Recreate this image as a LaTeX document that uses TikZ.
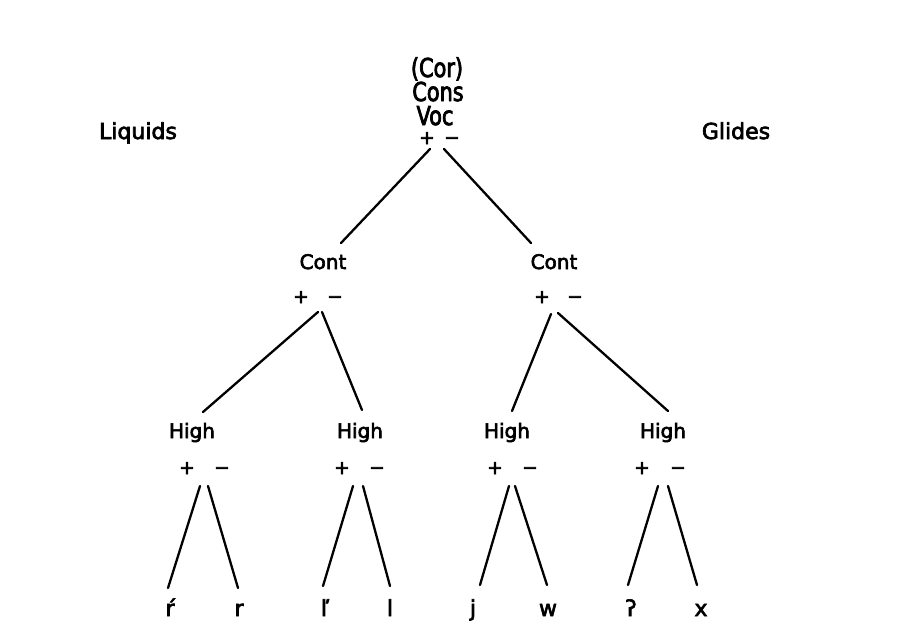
\documentclass[tikz,border=0pt]{standalone}
\usepackage{fontspec}
\setmainfont[FakeBold=3]{DejaVu Sans}
\newfontfamily\topfont[FakeStretch=0.8,FakeBold=3]{DejaVu Sans}
\begin{document}
\begin{tikzpicture}[x=1pt,y=-1pt,
  lbl/.style={inner sep=0pt,anchor=base,font=\fontsize{20}{24}\selectfont},
  sidelbl/.style={inner sep=0pt,anchor=base,font=\fontsize{22}{26}\selectfont},
  toplbl/.style={inner sep=0pt,anchor=base,font=\topfont\fontsize{26}{30}\selectfont},
  sign/.style={inner sep=0pt,anchor=base,font=\fontsize{19}{20}\selectfont},
  leaf/.style={inner sep=0pt,anchor=base,font=\fontsize{22}{26}\selectfont},
  branch/.style={line width=2.3pt,line cap=round}]
\useasboundingbox[fill=white] (0,0) rectangle (923,630);

% side labels
\node[sidelbl] (liquids) at (138,139) {Liquids};
\node[sidelbl] (glides) at (736,139) {Glides};

% top
\node[toplbl] (cor) at (437,77) {(Cor)};
\node[toplbl] (cons) at (438,101) {Cons};
\node[toplbl] (voc) at (435,125) {Voc};
\node[sign] (p0) at (427,144) {+};
\node[sign] (m0) at (452,144) {−};

% Cont
\node[lbl] (contL) at (323,269) {Cont};
\node[sign] (pL) at (301,303) {+};
\node[sign] (mL) at (335,303) {−};
\node[lbl] (contR) at (554,269) {Cont};
\node[sign] (pR) at (542,303) {+};
\node[sign] (mR) at (575,303) {−};

% High
\node[lbl] (h1) at (192,438) {High};
\node[sign] (p1) at (187,474) {+};
\node[sign] (m1) at (222,474) {−};
\node[lbl] (h2) at (360,438) {High};
\node[sign] (p2) at (342,474) {+};
\node[sign] (m2) at (377,474) {−};
\node[lbl] (h3) at (507,438) {High};
\node[sign] (p3) at (495,474) {+};
\node[sign] (m3) at (530,474) {−};
\node[lbl] (h4) at (663,438) {High};
\node[sign] (p4) at (642,474) {+};
\node[sign] (m4) at (678,474) {−};

% leaves
\node[leaf] (l1) at (170,616) {ŕ};
\node[leaf] (l2) at (239,616) {r};
\node[leaf] (l3) at (325,616) {ľ};
\node[leaf] (l4) at (390,616) {l};
\node[leaf] (l5) at (473,616) {j};
\node[leaf] (l6) at (548,616) {w};
\node[leaf] (l7) at (631,616) {ʔ};
\node[leaf] (l8) at (701,616) {x};

% branch end points
\coordinate (a0) at (430,149); \coordinate (b0) at (444,149);
\coordinate (a0e) at (341,243); \coordinate (b0e) at (531,243);
\coordinate (aL) at (318,312); \coordinate (bL) at (322,312);
\coordinate (aLe) at (203,412); \coordinate (bLe) at (362,410);
\coordinate (aR) at (551,314); \coordinate (bR) at (558,313);
\coordinate (aRe) at (512,411); \coordinate (bRe) at (668,411);
\coordinate (a1) at (200,486); \coordinate (b1) at (208,486);
\coordinate (a1e) at (168,588); \coordinate (b1e) at (238,588);
\coordinate (a2) at (353,486); \coordinate (b2) at (363,486);
\coordinate (a2e) at (323,586); \coordinate (b2e) at (390,586);
\coordinate (a3) at (509,486); \coordinate (b3) at (515,486);
\coordinate (a3e) at (480,585); \coordinate (b3e) at (547,585);
\coordinate (a4) at (658,486); \coordinate (b4) at (668,486);
\coordinate (a4e) at (628,585); \coordinate (b4e) at (697,585);

\draw[branch] (a0) -- (a0e);
\draw[branch] (b0) -- (b0e);
\draw[branch] (aL) -- (aLe);
\draw[branch] (bL) -- (bLe);
\draw[branch] (aR) -- (aRe);
\draw[branch] (bR) -- (bRe);
\draw[branch] (a1) -- (a1e);
\draw[branch] (b1) -- (b1e);
\draw[branch] (a2) -- (a2e);
\draw[branch] (b2) -- (b2e);
\draw[branch] (a3) -- (a3e);
\draw[branch] (b3) -- (b3e);
\draw[branch] (a4) -- (a4e);
\draw[branch] (b4) -- (b4e);
\end{tikzpicture}
\end{document}
